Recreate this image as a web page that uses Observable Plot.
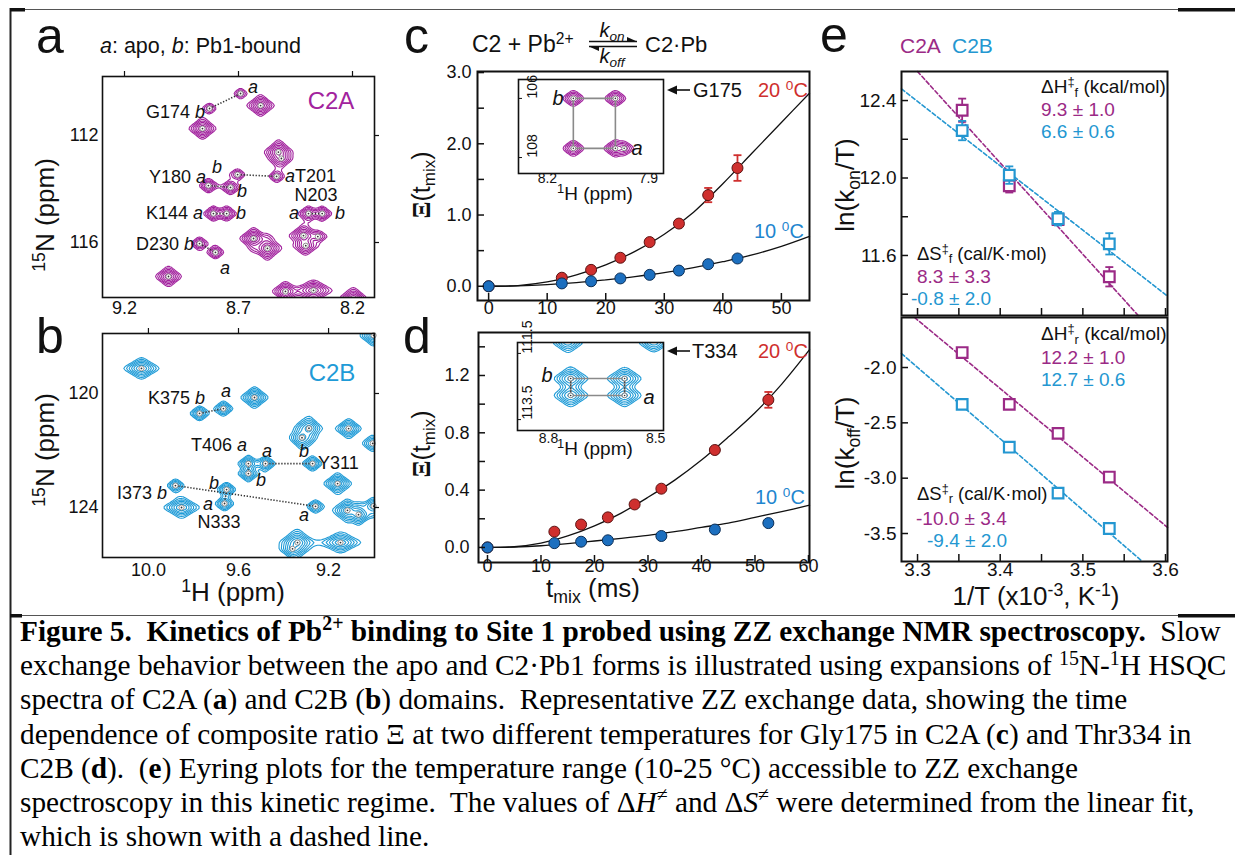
<!DOCTYPE html>
<html><head><meta charset="utf-8">
<script src="https://cdn.jsdelivr.net/npm/d3@7"></script>
<script src="https://cdn.jsdelivr.net/npm/@observablehq/plot@0.6"></script>
<style>
html,body{margin:0;padding:0;background:#fff;}
#fig{position:relative;width:1235px;height:855px;overflow:hidden;background:#fff;}
#fig svg{position:absolute;left:0;top:0;}
</style></head>
<body><div id="fig"></div>
<script>
// ================= DATA =================
// Panel a – C2A 15N-1H HSQC. Exchange pairs: [residue, apo 1H, apo 15N, Pb1-bound 1H, Pb1-bound 15N, peak height]
const pairsA = [
  ["G174", 8.691, 110.43, 8.827, 110.99, 0.28],
  ["Y180", 8.832, 113.87, 8.735, 113.94, 0.55],
  ["T201", 8.533, 113.53, 8.704, 113.46, 0.35],
  ["K144", 8.810, 114.92, 8.752, 114.92, 0.6],
  ["N203", 8.393, 114.92, 8.333, 114.92, 0.6],
  ["D230", 8.801, 116.37, 8.871, 116.04, 0.45]
];
// other C2A cross-peaks: [1H, 15N, height, 1H width factor, 15N width factor]
const peaksA = [
  [8.603, 110.88, 1.0, 1, 1], [8.858, 111.74, 1.0, 1, 1], [8.525, 112.62, 1.0, 1, 1.1],
  [8.512, 112.86, 0.5, 1, 1], [8.634, 115.85, 1.0, 1, 1], [8.573, 116.22, 1.0, 1, 1.1],
  [8.415, 115.74, 1.0, 1, 1], [8.405, 116.12, 0.6, 1, 1], [8.352, 115.78, 0.3, 1, 0.8],
  [9.007, 117.27, 0.9, 1, 1], [8.494, 117.83, 0.8, 1, 1], [8.371, 117.79, 0.9, 1.4, 1],
  [8.196, 118.10, 1.0, 1, 1]
];
// Panel b – C2B HSQC
const pairsB = [
  ["K375", 9.667, 120.53, 9.773, 120.70, 0.6],
  ["T406", 9.556, 122.46, 9.556, 122.81, 0.7],
  ["Y311", 9.480, 122.46, 9.271, 122.46, 0.6],
  ["I373", 9.258, 123.96, 9.880, 123.23, 0.45],
  ["N333", 9.662, 123.86, 9.653, 123.37, 0.55]
];
const peaksB = [
  [10.031, 119.12, 1.0, 1.3, 1], [9.529, 120.14, 1.0, 1, 1], [9.318, 121.55, 0.8, 1, 1.2],
  [9.287, 121.22, 0.8, 1, 1.2], [9.111, 121.23, 0.8, 1, 1], [9.004, 121.75, 0.5, 1, 1],
  [9.853, 124.00, 1.0, 1.3, 1], [9.160, 123.16, 1.0, 1, 1], [9.116, 124.10, 1.0, 1, 1],
  [9.067, 124.25, 0.9, 1, 1], [9.000, 123.95, 0.6, 1, 1], [9.338, 125.23, 1.0, 1.2, 1.2],
  [9.360, 125.45, 0.7, 1, 1], [9.147, 125.23, 0.9, 1.5, 1], [9.000, 117.96, 1.0, 1, 1]
];
// Insets: ZZ-exchange spectra of G175 (c) and T334 (d)
const insetCpeaks = [[8.123, 106.0, 0.5, 1, 1], [7.998, 106.0, 0.5, 1, 1], [8.123, 107.69, 0.5, 1, 1], [7.998, 107.69, 0.55, 1, 1], [7.972, 107.69, 0.3, 1, 1]];
const insetCbox = [[8.123, 106.0], [7.998, 106.0], [7.998, 107.69], [8.123, 107.69], [8.123, 106.0]];
const insetDpeaks = [[8.738, 112.26, 0.7, 1, 1], [8.587, 112.26, 0.7, 1, 1], [8.738, 112.77, 0.7, 1, 1], [8.587, 112.77, 0.7, 1, 1], [8.746, 111.15, 0.6, 1, 1], [8.505, 111.15, 0.6, 1, 1]];
const insetDbox = [[8.738, 112.26], [8.587, 112.26], [8.587, 112.77], [8.738, 112.77], [8.738, 112.26]];

// Panel c – G175 (C2A): Xi(tmix)
const tmixC = [0, 12.5, 17.5, 22.5, 27.5, 32.5, 37.5, 42.5];
const xiC20 = [0, 0.12, 0.23, 0.40, 0.62, 0.88, 1.28, 1.66];
const errC20 = [0, 0, 0, 0, 0, 0, 0.10, 0.18];
const xiC10 = [0, 0.04, 0.07, 0.11, 0.16, 0.22, 0.31, 0.39];
const fitTC = [0, 5, 10, 15, 20, 25, 30, 35, 40, 45, 50, 54.8];
const fitC20 = [0, 0.01, 0.06, 0.16, 0.30, 0.49, 0.73, 1.04, 1.44, 1.87, 2.30, 2.71];
const fitC10 = [0, 0.005, 0.022, 0.05, 0.09, 0.135, 0.19, 0.26, 0.345, 0.44, 0.56, 0.70];
// Panel d – T334 (C2B)
const tmixD20 = [0, 12.5, 17.5, 22.5, 27.5, 32.5, 42.5, 52.5];
const xiD20 = [0, 0.11, 0.16, 0.21, 0.30, 0.41, 0.68, 1.03];
const errD20 = [0, 0, 0, 0, 0, 0, 0, 0.055];
const tmixD10 = [0, 12.5, 17.5, 22.5, 32.5, 42.5, 52.5];
const xiD10 = [0, 0.03, 0.04, 0.05, 0.08, 0.125, 0.17];
const fitTD = [0, 5, 10, 15, 20, 25, 30, 35, 40, 45, 50, 55, 60.2];
const fitD20 = [0, 0.005, 0.03, 0.08, 0.15, 0.24, 0.35, 0.47, 0.61, 0.77, 0.94, 1.14, 1.38];
const fitD10 = [0, 0.003, 0.012, 0.027, 0.045, 0.064, 0.085, 0.11, 0.14, 0.17, 0.21, 0.25, 0.295];

// Panel e – Eyring plots (1/T in 10^-3 K^-1)
const invT = [3.354, 3.411, 3.470, 3.532];
const lnKonA = [12.35, 11.96, 11.785, 11.49], errKonA = [0.06, 0.035, 0.02, 0.05];
const lnKonB = [12.245, 12.015, 11.79, 11.66], errKonB = [0.05, 0.045, 0.035, 0.055];
const lnKoffA = [-1.865, -2.333, -2.595, -2.99], errKoffA = [0.025, 0.02, 0.015, 0.025];
const lnKoffB = [-2.333, -2.72, -3.135, -3.455], errKoffB = [0.02, 0.015, 0.02, 0.025];
const fitOnAx = [3.300, 3.567], fitOnAy = [12.55, 11.29];
const fitOnBx = [3.2806, 3.6024], fitOnBy = [12.46, 11.39];
const fitOffAx = [3.2964, 3.6024], fitOffAy = [-1.548, -3.445];
const fitOffBx = [3.2806, 3.5721], fitOffBy = [-1.874, -3.753];

// tick values
const ticksAx = [9.2, 8.7, 8.2], ticksAy = [112, 116];
const ticksBx = [10.0, 9.6, 9.2], ticksBy = [120, 124];
const ticksCx = [0, 10, 20, 30, 40, 50], ticksCy = [0, 0.5, 1.0, 1.5, 2.0, 2.5, 3.0], labelsCy = [0, 1, 2, 3];
const ticksDx = [0, 10, 20, 30, 40, 50, 60], ticksDy = [0, 0.2, 0.4, 0.6, 0.8, 1.0, 1.2, 1.4], labelsDy = [0, 0.4, 0.8, 1.2];
const ticksEx = [3.30, 3.35, 3.40, 3.45, 3.50, 3.55, 3.60], labelsEx = [3.3, 3.4, 3.5, 3.6];
const ticksE1y = [11.4, 11.6, 11.8, 12.0, 12.2, 12.4], labelsE1y = [11.6, 12.0, 12.4];
const ticksE2y = [-2.0, -2.5, -3.0, -3.5];

// ================= STYLE / RENDER =================
const W = 1235, H = 855;
const SANS = "'Liberation Sans', Arial, Helvetica, sans-serif";
const SERIF = "'Liberation Serif', 'Times New Roman', Times, serif";
const INK = "#111";
const PURPLE = "#a2239e", BLUE = "#1f9bd7";
const EPURPLE = "#9b2a86", EBLUE = "#2497d1";
const RED = "#cf2f2e", REDEDGE = "#5c1212", BLUEPT = "#1c6fbf", BLUEEDGE = "#0c2f57";
const LEVELS = [0.08, 0.12, 0.18, 0.27, 0.405, 0.61, 0.9];
const fig = document.getElementById("fig");

function box(x0, x1, y0, y1) {
  return {width: W, height: H, marginLeft: x0, marginRight: W - x1, marginTop: y0, marginBottom: H - y1,
    style: "position:absolute;left:0;top:0;background:transparent;overflow:visible;max-width:none;"};
}
function field(list, wH, wN) {
  return (x, y) => {
    let s = 0;
    for (const [h, n, a, sx, sy] of list) {
      const u = (x - h) / (wH * sx), v = (y - n) / (wN * sy);
      s += a / Math.pow((1 + u * u) * (1 + v * v), 1.5);
    }
    return s;
  };
}
const pairPeaks = (pairs) => pairs.flatMap(([r, ah, an, bh, bn, amp]) => [[ah, an, amp, 0.85, 0.85], [bh, bn, amp, 0.85, 0.85]]);
const cap = {draw(ctx, size) { const r = Math.sqrt(size / Math.PI); ctx.moveTo(-r, 0); ctx.lineTo(r, 0); }};
const tickTxt = (o) => ({fontSize: 18, fontFamily: SANS, fill: INK, ...o});

function spectrum(rect, dom, pairs, others, wH, wN, color, xt, yt) {
  const [x0, x1, y0, y1] = rect;
  const fw = x1 - x0, fh = y1 - y0;
  const all = pairPeaks(pairs).concat(others);
  const inside = all.filter(p => p[0] <= Math.max(dom.x[0], dom.x[1]) && p[0] >= Math.min(dom.x[0], dom.x[1]) && p[1] >= Math.min(dom.y[0], dom.y[1]) && p[1] <= Math.max(dom.y[0], dom.y[1]));
  return Plot.plot({
    ...box(x0, x1, y0, y1),
    x: {domain: dom.x, axis: null}, y: {domain: dom.y, axis: null},
    marks: [
      Plot.contour({x1: dom.x[0], x2: dom.x[1], y1: dom.y[0], y2: dom.y[1], value: field(all, wH, wN), thresholds: LEVELS, stroke: color, fill: "none", strokeWidth: 1.1}),
      Plot.link(pairs, {x1: d => d[3], y1: d => d[4], x2: d => d[1], y2: d => d[2], stroke: "#333", strokeWidth: 1.6, strokeDasharray: "1.3,1.7"}),
      Plot.dot(inside, {x: d => d[0], y: d => d[1], r: 2.6, fill: "white", stroke: "#777", strokeWidth: 0.8}),
      Plot.dot(inside, {x: d => d[0], y: d => d[1], r: 0.9, fill: "#333"}),
      Plot.frame({stroke: INK, strokeWidth: 1.6}),
      Plot.tickX(xt, {x: d => d, insetTop: -5, insetBottom: fh, stroke: INK, strokeWidth: 1.2}),
      Plot.tickY(yt, {y: d => d, insetLeft: fw, insetRight: -5, stroke: INK, strokeWidth: 1.2}),
      Plot.text(xt, tickTxt({x: d => d, text: d => d.toFixed(1), frameAnchor: "bottom", dy: dom.dy})),
      Plot.text(yt, tickTxt({y: d => d, text: d => String(d), frameAnchor: "left", dx: -4, textAnchor: "end"}))
    ]
  });
}

// Panel a
fig.append(spectrum([102, 374, 76, 297], {x: [9.2965, 8.1035], y: [118.056, 109.794], dy: 16}, pairsA, peaksA, 0.0283, 0.19, PURPLE, ticksAx, ticksAy));
// Panel b
fig.append(spectrum([102, 374, 333, 557], {x: [10.204, 8.996], y: [125.754, 117.895], dy: 18}, pairsB, peaksB, 0.0288, 0.178, BLUE, ticksBx, ticksBy));

// Kinetic panels c, d
function kinetic(rect, dom, fitT, fit20, fit10, t20, v20, e20, t10, v10, xt, yt, ylab, ldx, ldy) {
  const [x0, x1, y0, y1] = rect;
  const fw = x1 - x0, fh = y1 - y0;
  const d20 = t20.map((t, i) => ({t, v: v20[i], e: e20[i]}));
  const d10 = t10.map((t, i) => ({t, v: v10[i]}));
  const eb = d20.filter(d => d.e > 0);
  return Plot.plot({
    ...box(x0, x1, y0, y1),
    x: {domain: dom.x, axis: null}, y: {domain: dom.y, axis: null},
    marks: [
      Plot.line(fitT, {x: fitT, y: fit20, stroke: INK, strokeWidth: 1.3, curve: "catmull-rom"}),
      Plot.line(fitT, {x: fitT, y: fit10, stroke: INK, strokeWidth: 1.3, curve: "catmull-rom"}),
      Plot.ruleX(eb, {x: "t", y1: d => d.v - d.e, y2: d => d.v + d.e, stroke: RED, strokeWidth: 1.8}),
      Plot.dot(eb, {x: "t", y: d => d.v + d.e, symbol: cap, r: 4, stroke: RED, strokeWidth: 1.8}),
      Plot.dot(eb, {x: "t", y: d => d.v - d.e, symbol: cap, r: 4, stroke: RED, strokeWidth: 1.8}),
      Plot.dot(d20, {x: "t", y: "v", r: 5.5, fill: RED, stroke: REDEDGE, strokeWidth: 1}),
      Plot.dot(d10, {x: "t", y: "v", r: 5.5, fill: BLUEPT, stroke: BLUEEDGE, strokeWidth: 1}),
      Plot.frame({stroke: INK, strokeWidth: 2}),
      Plot.tickX(xt, {x: d => d, insetTop: fh - 7, stroke: INK, strokeWidth: 1.5}),
      Plot.tickY(yt, {y: d => d, insetRight: fw - 7, stroke: INK, strokeWidth: 1.5}),
      Plot.text(xt, tickTxt({x: d => d, text: d => String(d), frameAnchor: "bottom", dy: ldy})),
      Plot.text(ylab, tickTxt({y: d => d, text: d => d.toFixed(1), frameAnchor: "left", dx: ldx, textAnchor: "end"}))
    ]
  });
}
fig.append(kinetic([477, 809, 71, 300], {x: [-1.9, 54.8], y: [-0.2, 3.015]}, fitTC, fitC20, fitC10, tmixC, xiC20, errC20, tmixC, xiC10, ticksCx, ticksCy, labelsCy, -6, 13));
fig.append(kinetic([478, 809, 332, 562], {x: [-1.68, 60.19], y: [-0.105, 1.50]}, fitTD, fitD20, fitD10, tmixD20, xiD20, errD20, tmixD10, xiD10, ticksDx, ticksDy, labelsDy, -9, 9));

// Insets
function inset(rect, dom, peaks, wH, wN, color, boxPath, xt, yt, ydx, xdy, links) {
  const [x0, x1, y0, y1] = rect;
  const fw = x1 - x0, fh = y1 - y0;
  const inside = peaks.filter(p => p[1] > Math.min(dom.y[0], dom.y[1]) + 0.05);
  return Plot.plot({
    ...box(x0, x1, y0, y1),
    x: {domain: dom.x, axis: null}, y: {domain: dom.y, axis: null},
    marks: [
      Plot.frame({fill: "white", stroke: "none"}),
      Plot.contour({x1: dom.x[0], x2: dom.x[1], y1: dom.y[0], y2: dom.y[1], value: field(peaks, wH, wN), thresholds: LEVELS, stroke: color, fill: "none", strokeWidth: 1.1}),
      Plot.line(boxPath, {x: d => d[0], y: d => d[1], stroke: "#8a8a8a", strokeWidth: 1.6}),
      links ? Plot.link(links, {x1: d => d[0], y1: d => d[1], x2: d => d[2], y2: d => d[3], stroke: "#333", strokeWidth: 1.5, strokeDasharray: "1.3,1.7"}) : null,
      Plot.dot(inside, {x: d => d[0], y: d => d[1], r: 2.4, fill: "white", stroke: "#777", strokeWidth: 0.8}),
      Plot.dot(inside, {x: d => d[0], y: d => d[1], r: 0.8, fill: "#333"}),
      Plot.frame({stroke: INK, strokeWidth: 1.6}),
      Plot.tickY(yt, {y: d => d, insetRight: fw - 4, stroke: INK, strokeWidth: 1}),
      Plot.text(xt, {x: d => d, text: d => d.toFixed(1), frameAnchor: "bottom", dy: xdy, fontSize: 14, fontFamily: SANS, fill: INK}),
      Plot.text(yt, {y: d => d, text: d => String(d), frameAnchor: "left", dx: ydx, rotate: -90, fontSize: 14, fontFamily: SANS, fill: INK})
    ]
  });
}
fig.append(inset([518, 663, 79, 173], {x: [8.286, 7.855], y: [108.54, 105.36]}, insetCpeaks, 0.0196, 0.17, PURPLE, insetCbox, [8.2, 7.9], [106, 108], 14, 9, null));
fig.append(inset([517, 663, 342, 430], {x: [8.887, 8.478], y: [113.83, 111.17]}, insetDpeaks, 0.025, 0.18, BLUE, insetDbox, [8.8, 8.5], [111.5, 113.5], 10, 12,
  [[8.738, 112.26, 8.738, 112.77], [8.587, 112.26, 8.587, 112.77]]));

// Eyring panels
function eyring(rect, dom, yA, eA, yB, eB, fA, fB, yt, ylab, xlab) {
  const [x0, x1, y0, y1] = rect;
  const fw = x1 - x0, fh = y1 - y0;
  const A = invT.map((x, i) => ({x, y: yA[i], e: eA[i]}));
  const B = invT.map((x, i) => ({x, y: yB[i], e: eB[i]}));
  const errMarks = (D, c) => [
    Plot.ruleX(D, {x: "x", y1: d => d.y - d.e, y2: d => d.y + d.e, stroke: c, strokeWidth: 1.8}),
    Plot.dot(D, {x: "x", y: d => d.y + d.e, symbol: cap, r: 4, stroke: c, strokeWidth: 1.8}),
    Plot.dot(D, {x: "x", y: d => d.y - d.e, symbol: cap, r: 4, stroke: c, strokeWidth: 1.8})
  ];
  return Plot.plot({
    ...box(x0, x1, y0, y1),
    x: {domain: dom.x, axis: null}, y: {domain: dom.y, axis: null},
    marks: [
      Plot.line(fA[0], {x: fA[0], y: fA[1], stroke: EPURPLE, strokeWidth: 1.6, strokeDasharray: "4,2.5"}),
      Plot.line(fB[0], {x: fB[0], y: fB[1], stroke: EBLUE, strokeWidth: 1.6, strokeDasharray: "4,2.5"}),
      ...errMarks(A, EPURPLE),
      Plot.dot(A, {x: "x", y: "y", symbol: "square", r: 6, fill: "white", stroke: EPURPLE, strokeWidth: 2.2}),
      ...errMarks(B, EBLUE),
      Plot.dot(B, {x: "x", y: "y", symbol: "square", r: 6, fill: "white", stroke: EBLUE, strokeWidth: 2.2}),
      Plot.frame({stroke: INK, strokeWidth: 2}),
      Plot.tickX(ticksEx, {x: d => d, insetTop: fh - 7, stroke: INK, strokeWidth: 1.5}),
      Plot.tickY(yt, {y: d => d, insetRight: fw - 7, stroke: INK, strokeWidth: 1.5}),
      xlab ? Plot.text(xlab, tickTxt({x: d => d, text: d => d.toFixed(1), frameAnchor: "bottom", dy: 14, fontSize: 19})) : null,
      Plot.text(ylab, tickTxt({y: d => d, text: d => d.toFixed(1), frameAnchor: "left", dx: -5, textAnchor: "end", fontSize: 19}))
    ]
  });
}
fig.append(eyring([901, 1167, 71, 315], {x: [3.2806, 3.6024], y: [11.29, 12.55]}, lnKonA, errKonA, lnKonB, errKonB, [fitOnAx, fitOnAy], [fitOnBx, fitOnBy], ticksE1y, labelsE1y, null));
fig.append(eyring([901, 1167, 317, 561], {x: [3.2806, 3.6024], y: [-3.753, -1.548]}, lnKoffA, errKoffA, lnKoffB, errKoffB, [fitOffAx, fitOffAy], [fitOffBx, fitOffBy], ticksE2y, ticksE2y, labelsEx));

// ================= Overlay: labels, annotations, caption, borders =================
const ov = d3.select(fig).append("svg").attr("width", W).attr("height", H)
  .style("position", "absolute").style("left", "0").style("top", "0").style("overflow", "visible");

function label(x, y, parts, o = {}) {
  const size = o.size ?? 18;
  const t = ov.append("text").attr("font-family", o.font ?? SANS).attr("font-size", size)
    .attr("fill", o.color ?? INK).attr("text-anchor", o.anchor ?? "start").style("white-space", "pre");
  const dy = o.base ? 0 : 0.36 * size;
  if (o.rotate) t.attr("transform", `translate(${x},${y}) rotate(-90)`).attr("x", 0).attr("y", dy);
  else t.attr("x", x).attr("y", y + dy);
  let cur = 0;
  for (const p of parts) {
    const q = typeof p === "string" ? {t: p} : p;
    const shift = q.sup ? -0.36 * size : q.sub ? 0.2 * size : 0;
    const s = t.append("tspan").text(q.t);
    if (shift !== cur) { s.attr("dy", shift - cur); cur = shift; }
    if (q.sup || q.sub) s.attr("font-size", size * 0.68);
    if (q.i) s.attr("font-style", "italic");
    if (q.b) s.attr("font-weight", "bold");
    if (q.c) s.attr("fill", q.c);
    if (q.f) s.attr("font-family", q.f);
  }
  return t;
}
const I = (t) => ({t, i: 1});

// panel letters
label(36, 53, ["a"], {size: 50, base: 1});
label(36, 353, ["b"], {size: 50, base: 1});
label(404, 53, ["c"], {size: 50, base: 1});
label(403, 353, ["d"], {size: 50, base: 1});
label(820, 52, ["e"], {size: 50, base: 1});

// panel a annotations
label(100, 45, [I("a"), ": apo, ", I("b"), ": Pb1-bound"], {size: 21.5});
label(331, 100, ["C2A"], {size: 24, anchor: "middle", color: PURPLE});
label(205, 112, ["G174 ", I("b")], {anchor: "end"});
label(248, 87, [I("a")]);
label(206, 177, ["Y180 ", I("a")], {anchor: "end"});
label(217, 167, [I("b")], {anchor: "middle"});
label(285, 176, [I("a"), "T201"]);
label(242, 191, [I("b")], {anchor: "middle"});
label(316, 195, ["N203"], {anchor: "middle"});
label(294, 213, [I("a")], {anchor: "middle"});
label(340, 213, [I("b")], {anchor: "middle"});
label(203, 213, ["K144 ", I("a")], {anchor: "end"});
label(241, 213, [I("b")], {anchor: "middle"});
label(194, 244, ["D230 ", I("b")], {anchor: "end"});
label(225, 268, [I("a")], {anchor: "middle"});
label(45, 215, [{t: "15", sup: 1}, "N (ppm)"], {size: 26, anchor: "middle", rotate: 1});

// panel b annotations
label(332, 372, ["C2B"], {size: 24, anchor: "middle", color: BLUE});
label(205, 398, ["K375 ", I("b")], {anchor: "end"});
label(226, 391, [I("a")], {anchor: "middle"});
label(247, 445, ["T406 ", I("a")], {anchor: "end"});
label(267, 451, [I("a")], {anchor: "middle"});
label(304, 451, [I("b")], {anchor: "middle"});
label(318, 463, ["Y311"]);
label(261, 480, [I("b")], {anchor: "middle"});
label(167, 493, ["I373 ", I("b")], {anchor: "end"});
label(214, 483, [I("b")], {anchor: "middle"});
label(208, 504, [I("a")], {anchor: "middle"});
label(219, 522, ["N333"], {anchor: "middle"});
label(304, 515, [I("a")], {anchor: "middle"});
label(45, 450, [{t: "15", sup: 1}, "N (ppm)"], {size: 26, anchor: "middle", rotate: 1});
label(233, 592, [{t: "1", sup: 1}, "H (ppm)"], {size: 26, anchor: "middle"});

// panel c annotations
label(472, 52, ["C2 + Pb", {t: "2+", sup: 1}], {size: 23, base: 1});
label(645, 52, ["C2·Pb"], {size: 22, base: 1});
label(612, 37, [I("k"), {t: "on", sub: 1, i: 1}], {size: 20, base: 1, anchor: "middle"});
label(612, 63, [I("k"), {t: "off", sub: 1, i: 1}], {size: 20, base: 1, anchor: "middle"});
ov.append("line").attr("x1", 589).attr("x2", 637).attr("y1", 41.5).attr("y2", 41.5).attr("stroke", INK).attr("stroke-width", 1.3);
ov.append("path").attr("d", "M637,41.5 l-10,-4.5 l0,4.5 z").attr("fill", INK);
ov.append("line").attr("x1", 589).attr("x2", 637).attr("y1", 46.5).attr("y2", 46.5).attr("stroke", INK).attr("stroke-width", 1.3);
ov.append("path").attr("d", "M589,46.5 l10,4.5 l0,-4.5 z").attr("fill", INK);
function leftArrow(x1, x2, y) {
  ov.append("line").attr("x1", x1).attr("x2", x2 + 6).attr("y1", y).attr("y2", y).attr("stroke", INK).attr("stroke-width", 1.6);
  ov.append("path").attr("d", `M${x2},${y} l10,-4.5 l0,9 z`).attr("fill", INK);
}
leftArrow(690, 667, 90);
label(693, 90, ["G175"], {size: 20});
label(758, 90, ["20 ", {t: "0", sup: 1}, "C"], {size: 20, color: RED});
label(754, 231, ["10 ", {t: "0", sup: 1}, "C"], {size: 20, color: "#1f86cf"});
label(558, 98, [I("b")], {size: 20, anchor: "middle"});
label(637, 148, [I("a")], {size: 20, anchor: "middle"});
label(557, 193, [{t: "1", sup: 1}, "H (ppm)"], {size: 19});
label(421, 185, [{t: "Ξ", f: SERIF, b: 1}, "(t", {t: "mix", sub: 1}, ")"], {size: 25, anchor: "middle", rotate: 1});

// panel d annotations
leftArrow(690, 667, 351);
label(692, 351, ["T334"], {size: 20});
label(758, 351, ["20 ", {t: "0", sup: 1}, "C"], {size: 20, color: RED});
label(755, 497, ["10 ", {t: "0", sup: 1}, "C"], {size: 20, color: "#1f86cf"});
label(547, 375, [I("b")], {size: 20, anchor: "middle"});
label(649, 397, [I("a")], {size: 20, anchor: "middle"});
label(557, 448, [{t: "1", sup: 1}, "H (ppm)"], {size: 19});
label(421, 444, [{t: "Ξ", f: SERIF, b: 1}, "(t", {t: "mix", sub: 1}, ")"], {size: 25, anchor: "middle", rotate: 1});
label(593, 588, ["t", {t: "mix", sub: 1}, " (ms)"], {size: 26, anchor: "middle"});

// panel e annotations
label(900, 45, ["C2A"], {size: 21, color: EPURPLE});
label(952, 45, ["C2B"], {size: 21, color: EBLUE});
label(1041, 86, ["ΔH", {t: "‡", sup: 1}, {t: "f", sub: 1}, " (kcal/mol)"], {size: 19});
label(1041, 109, ["9.3 ± 1.0"], {size: 19, color: EPURPLE});
label(1041, 131, ["6.6 ± 0.6"], {size: 19, color: EBLUE});
label(917, 253, ["ΔS", {t: "‡", sup: 1}, {t: "f", sub: 1}, " (cal/K·mol)"], {size: 18.5});
label(917, 276, ["8.3 ± 3.3"], {size: 19, color: EPURPLE});
label(911, 298, ["-0.8 ± 2.0"], {size: 19, color: EBLUE});
label(1041, 333, ["ΔH", {t: "‡", sup: 1}, {t: "r", sub: 1}, " (kcal/mol)"], {size: 19});
label(1041, 357, ["12.2 ± 1.0"], {size: 19, color: EPURPLE});
label(1041, 379, ["12.7 ± 0.6"], {size: 19, color: EBLUE});
label(917, 493, ["ΔS", {t: "‡", sup: 1}, {t: "r", sub: 1}, " (cal/K·mol)"], {size: 18.5});
label(916, 518, ["-10.0 ± 3.4"], {size: 19, color: EPURPLE});
label(927, 540, ["-9.4 ± 2.0"], {size: 19, color: EBLUE});
label(845, 185, ["ln(k", {t: "on", sub: 1}, "/T)"], {size: 26, anchor: "middle", rotate: 1});
label(845, 443, ["ln(k", {t: "off", sub: 1}, "/T)"], {size: 26, anchor: "middle", rotate: 1});
label(1036, 596, ["1/T (x10", {t: "-3", sup: 1}, ", K", {t: "-1", sup: 1}, ")"], {size: 26, anchor: "middle"});

// caption
const capLines = [
  [{t: "Figure 5.  Kinetics of Pb", b: 1}, {t: "2+", b: 1, sup: 1}, {t: " binding to Site 1 probed using ZZ exchange NMR spectroscopy.", b: 1}, "  Slow"],
  ["exchange behavior between the apo and C2·Pb1 forms is illustrated using expansions of ", {t: "15", sup: 1}, "N-", {t: "1", sup: 1}, "H HSQC"],
  ["spectra of C2A (", {t: "a", b: 1}, ") and C2B (", {t: "b", b: 1}, ") domains.  Representative ZZ exchange data, showing the time"],
  ["dependence of composite ratio Ξ at two different temperatures for Gly175 in C2A (", {t: "c", b: 1}, ") and Thr334 in"],
  ["C2B (", {t: "d", b: 1}, ").  (", {t: "e", b: 1}, ") Eyring plots for the temperature range (10-25 °C) accessible to ZZ exchange"],
  ["spectroscopy in this kinetic regime.  The values of Δ", I("H"), {t: "≠", sup: 1}, " and Δ", I("S"), {t: "≠", sup: 1}, " were determined from the linear fit,"],
  ["which is shown with a dashed line."]
];
capLines.forEach((ln, i) => label(20, 641 + i * 34.2, ln, {size: 29.3, font: SERIF, base: 1, color: "#000"}));

// table borders
const ln = (x1, y1, x2, y2, w, c) => ov.append("line").attr("x1", x1).attr("y1", y1).attr("x2", x2).attr("y2", y2).attr("stroke", c).attr("stroke-width", w);
ln(10, 9.5, 1235, 9.5, 1, "#555");
ln(10, 615.5, 1235, 615.5, 1, "#555");
ln(10.5, 8, 10.5, 855, 2, "#222");
ov.append("rect").attr("x", 10).attr("y", 8).attr("width", 15).attr("height", 3.5).attr("fill", "#111");
ov.append("rect").attr("x", 1178).attr("y", 8).attr("width", 57).attr("height", 3.5).attr("fill", "#111");
ov.append("rect").attr("x", 10).attr("y", 614).attr("width", 12).attr("height", 3.5).attr("fill", "#111");
ov.append("rect").attr("x", 1178).attr("y", 614).attr("width", 57).attr("height", 3.5).attr("fill", "#111");
</script></body></html>
